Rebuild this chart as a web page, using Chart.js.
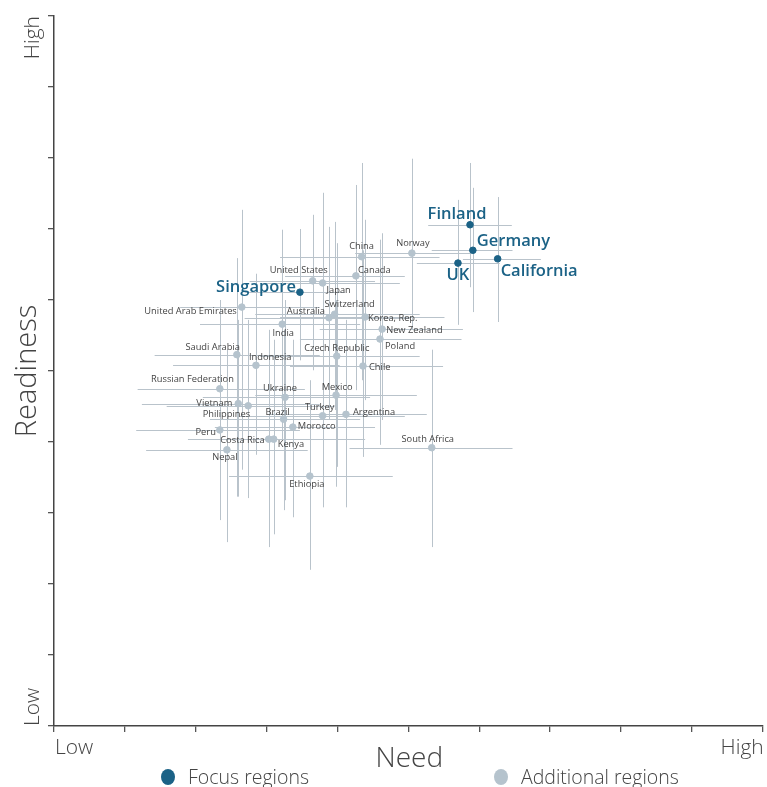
<!DOCTYPE html>
<html>
<head>
<meta charset="utf-8">
<script src="https://cdn.jsdelivr.net/npm/chart.js@4"></script>
<style>
html,body{margin:0;padding:0;background:#fff;}
#wrap{width:767px;height:787px;position:relative;}
</style>
</head>
<body>
<div id="wrap"><canvas id="c"></canvas></div>
<script>
// ---- data (0-100 scale for Need and Readiness) ----
const regions = ["Finland","Germany","UK","California","Singapore",
  "Norway","China","Canada","United States","Japan","United Arab Emirates","Australia","Switzerland",
  "Korea, Rep.","New Zealand","Poland","India","Saudi Arabia","Indonesia","Czech Republic","Chile",
  "Russian Federation","Ukraine","Mexico","Vietnam","Philippines","Brazil","Turkey","Argentina",
  "Morocco","Peru","Costa Rica","Kenya","Nepal","Ethiopia","South Africa"];
const focus = [1,1,1,1,1, 0,0,0,0,0,0,0,0, 0,0,0,0,0,0,0,0, 0,0,0,0,0,0,0,0, 0,0,0,0,0,0,0];
const need = [58.7,59.1,57.0,62.6,34.7,
  50.5,43.4,42.6,36.5,37.9,26.5,38.8,39.6,
  43.9,46.3,46.0,32.2,25.8,28.5,39.9,43.6,
  23.4,32.6,39.8,26.0,27.4,32.4,37.9,41.2,
  33.7,23.4,30.3,31.0,24.4,36.1,53.3];
const readiness = [70.6,67.0,65.2,65.8,61.1,
  66.6,66.1,63.4,62.7,62.4,59.0,57.5,58.0,
  57.6,55.9,54.5,56.6,52.3,50.8,52.1,50.7,
  47.5,46.3,46.6,45.4,45.1,43.2,43.7,43.9,
  42.1,41.7,40.4,40.4,38.9,35.2,39.2];
const needLow = [52.8,53.3,51.2,57.7,26.9,
  42.5,31.9,32.6,27.6,29.1,17.8,26.9,28.4,
  31.9,37.5,34.7,20.6,14.2,16.8,29.1,33.3,
  11.8,21.0,28.4,12.4,15.9,22.0,26.2,30.5,
  22.7,11.6,18.9,20.6,13.0,24.7,41.7];
const needHigh = [64.6,64.7,62.9,68.7,41.0,
  58.7,54.4,49.5,45.3,48.8,37.5,50.2,51.6,
  55.1,57.7,57.5,43.2,37.5,40.3,51.6,54.9,
  35.4,44.6,51.2,37.5,39.6,43.2,49.5,52.6,
  45.3,34.7,42.0,43.9,35.8,47.8,64.7];
const readinessLow = [61.8,58.3,56.5,56.9,51.5,
  55.8,48.7,47.3,50.1,45.9,36.1,43.1,44.5,
  45.9,43.1,39.6,40.3,32.3,38.2,36.5,37.9,
  29.0,31.8,33.7,32.3,32.1,30.4,30.8,30.8,
  29.4,33.9,25.2,27.0,25.9,22.0,25.2];
const readinessHigh = [79.3,75.8,74.1,74.5,70.0,
  79.9,79.3,76.2,72.0,75.1,72.7,70.3,71.0,
  71.3,69.4,68.5,69.9,65.9,63.7,68.0,67.0,
  60.0,60.0,60.0,57.2,57.2,55.8,55.8,57.2,
  54.4,54.4,55.8,54.4,53.0,48.7,53.0];
const legendLabels = ["Focus regions","Additional regions"];
const axisTitles = {x:"Need", y:"Readiness", low:"Low", high:"High"};

// ---- label placement (style, not data): [dx, dy, align] in px relative to point ----
const labelPlace = {
  "Finland":[-13,-10,"center"],"Germany":[4,-9,"left"],"UK":[0,12,"center"],"California":[3,12,"left"],
  "Singapore":[-4,-5,"right"],"Norway":[1,-10,"center"],"China":[0,-10,"center"],"Canada":[2,-6,"left"],
  "United States":[-14,-10,"center"],"Japan":[4,7,"left"],"United Arab Emirates":[-5,4,"right"],
  "Australia":[-4,-6,"right"],"Switzerland":[15,-10,"center"],"Korea, Rep.":[3,1,"left"],
  "New Zealand":[4,1,"left"],"Poland":[5,7,"left"],"India":[1,9,"center"],"Saudi Arabia":[3,-7,"right"],
  "Indonesia":[-7,-8,"left"],"Czech Republic":[0,-8,"center"],"Chile":[6,1,"left"],
  "Russian Federation":[14,-9,"right"],"Ukraine":[-5,-9,"center"],"Mexico":[1,-8,"center"],
  "Vietnam":[-6,0,"right"],"Philippines":[2,9,"right"],"Brazil":[-6,-7,"center"],"Turkey":[-3,-8,"center"],
  "Argentina":[7,-2,"left"],"Morocco":[5,-1,"left"],"Peru":[-4,2,"right"],"Costa Rica":[-4,1,"right"],
  "Kenya":[4,5,"left"],"Nepal":[-2,8,"center"],"Ethiopia":[-3,8,"center"],"South Africa":[-4,-8,"center"]
};

const FOCUS = "#1b6286";
const ADD = "#b5c3cd";
const BAR = "#b9c3cb";
const TEXT = "#444444";

const focusPts = [], addPts = [];
regions.forEach((r,i)=>{
  const p = {x:need[i], y:readiness[i], i:i};
  (focus[i] ? focusPts : addPts).push(p);
});

const errorBars = {
  id:'errorBars',
  beforeDatasetsDraw(chart){
    const {ctx, scales:{x,y}} = chart;
    ctx.save();
    ctx.strokeStyle = BAR;
    ctx.lineWidth = 1;
    regions.forEach((r,i)=>{
      const px = Math.round(x.getPixelForValue(need[i]))+0.5;
      const py = Math.round(y.getPixelForValue(readiness[i]))+0.5;
      ctx.beginPath();
      ctx.moveTo(x.getPixelForValue(needLow[i]), py);
      ctx.lineTo(x.getPixelForValue(needHigh[i]), py);
      ctx.moveTo(px, y.getPixelForValue(readinessLow[i]));
      ctx.lineTo(px, y.getPixelForValue(readinessHigh[i]));
      ctx.stroke();
    });
    ctx.restore();
  },
  afterDatasetsDraw(chart){
    const {ctx, scales:{x,y}, chartArea} = chart;
    ctx.save();
    ctx.textBaseline = 'middle';
    regions.forEach((r,i)=>{
      const pl = labelPlace[r] || [4,0,'left'];
      const px = x.getPixelForValue(need[i]);
      const py = y.getPixelForValue(readiness[i]);
      if (focus[i]) {
        ctx.font = '600 16.5px "Open Sans"';
        ctx.fillStyle = FOCUS;
      } else {
        ctx.font = '9.3px "Open Sans"';
        ctx.fillStyle = TEXT;
      }
      ctx.textAlign = pl[2];
      ctx.fillText(r, px+pl[0], py+pl[1]);
    });
    // axis end labels and titles
    ctx.fillStyle = TEXT;
    ctx.font = '300 21px "Open Sans"';
    ctx.textBaseline = 'alphabetic';
    ctx.textAlign = 'left';
    ctx.fillText(axisTitles.low, chartArea.left+1, chartArea.bottom+28);
    ctx.textAlign = 'right';
    ctx.fillText(axisTitles.high, chartArea.right+1, chartArea.bottom+28);
    // rotated y end labels
    ctx.save();
    ctx.translate(chartArea.left-15, chartArea.top);
    ctx.rotate(-Math.PI/2);
    ctx.textAlign = 'right';
    ctx.fillText(axisTitles.high, 0, 0);
    ctx.restore();
    ctx.save();
    ctx.translate(chartArea.left-15, chartArea.bottom);
    ctx.rotate(-Math.PI/2);
    ctx.textAlign = 'left';
    ctx.fillText(axisTitles.low, 0, 0);
    ctx.restore();
    // titles
    ctx.font = '300 28px "Open Sans"';
    ctx.textAlign = 'center';
    ctx.fillText(axisTitles.x, (chartArea.left+chartArea.right)/2+1, chartArea.bottom+41);
    ctx.save();
    ctx.translate(36, (chartArea.top+chartArea.bottom)/2);
    ctx.rotate(-Math.PI/2);
    ctx.font = '300 29px "Open Sans"';
    ctx.fillText(axisTitles.y, 0, 0);
    ctx.restore();
    // legend
    ctx.font = '300 19.5px "Open Sans"';
    ctx.textAlign = 'left';
    ctx.textBaseline = 'middle';
    const ly = chartArea.bottom + 51;
    [[168, FOCUS, legendLabels[0]],[501, ADD, legendLabels[1]]].forEach(([lx,col,txt])=>{
      ctx.fillStyle = col;
      ctx.beginPath(); ctx.ellipse(lx, ly, 7, 8, 0, 0, Math.PI*2); ctx.fill();
      ctx.fillStyle = TEXT;
      ctx.fillText(txt, lx+20, ly+1);
    });
    ctx.restore();
  }
};

new Chart(document.getElementById('c'), {
  type:'scatter',
  data:{datasets:[
    {label:legendLabels[1], data:addPts, backgroundColor:ADD, borderColor:ADD, pointRadius:3.3, pointHoverRadius:3.3},
    {label:legendLabels[0], data:focusPts, backgroundColor:FOCUS, borderColor:FOCUS, pointRadius:3.3, pointHoverRadius:3.3}
  ]},
  options:{
    responsive:true, maintainAspectRatio:false, animation:false,
    layout:{padding:{left:48, right:4, top:16, bottom:55}},
    plugins:{legend:{display:false}, tooltip:{enabled:false}},
    scales:{
      x:{type:'linear', min:0, max:100,
        ticks:{display:false, stepSize:10},
        grid:{drawOnChartArea:false, drawTicks:true, tickLength:6, color:'#555', lineWidth:1.3},
        border:{display:true, color:'#444', width:1.5}},
      y:{type:'linear', min:0, max:100,
        ticks:{display:false, stepSize:10},
        grid:{drawOnChartArea:false, drawTicks:true, tickLength:6, color:'#555', lineWidth:1.3},
        border:{display:true, color:'#444', width:1.5}}
    }
  },
  plugins:[errorBars]
});
</script>
</body>
</html>
